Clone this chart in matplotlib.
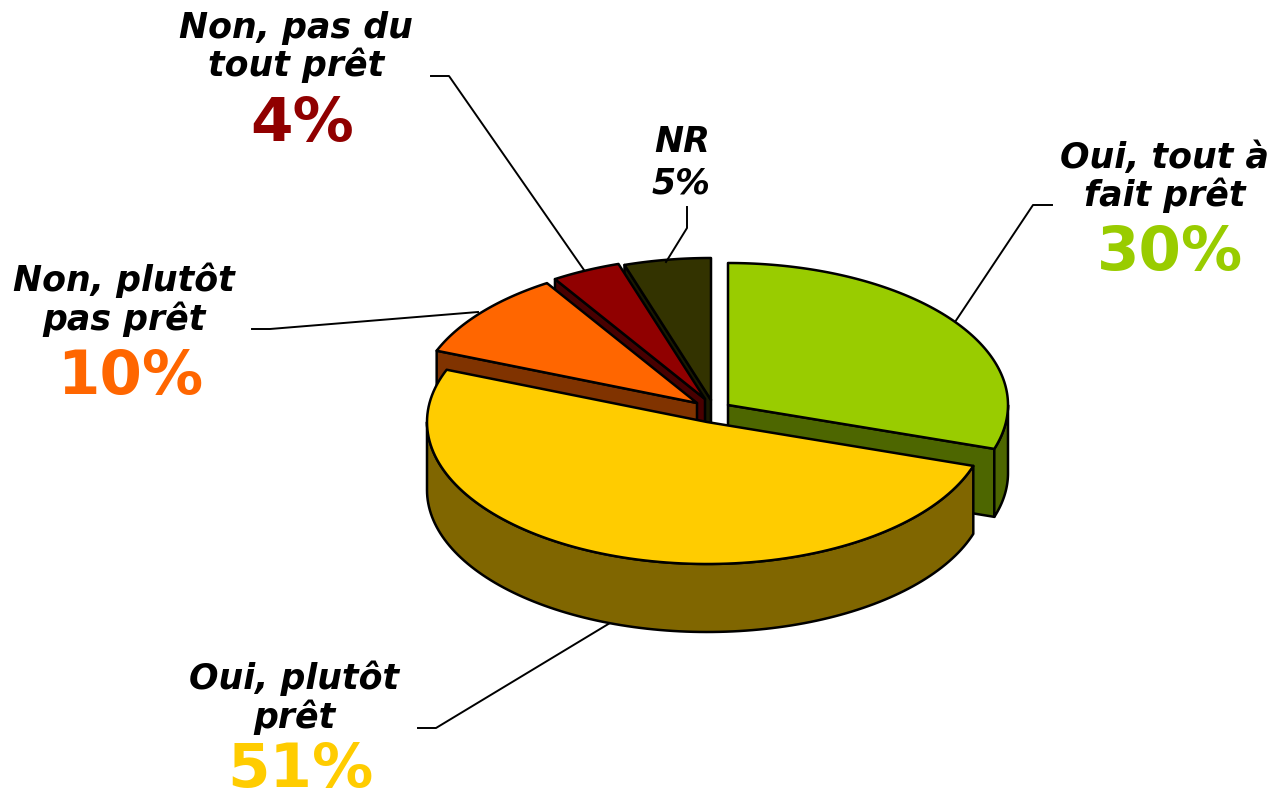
import numpy as np
import matplotlib
matplotlib.use("Agg")
import matplotlib.pyplot as plt
from matplotlib.patches import Polygon

labels = ["Oui, tout à\nfait prêt", "Oui, plutôt\nprêt", "Non, plutôt\npas prêt", "Non, pas du\ntout prêt", "NR"]
values = [30, 51, 10, 4, 5]

colors = ["#99CC00", "#FFCC00", "#FF6600", "#900000", "#333300"]
dark_colors = ["#4D6600", "#806600", "#803300", "#480000", "#1A1A00"]
pct_colors = ["#99CC00", "#FFCC00", "#FF6600", "#900000", "black"]
apex = [(728, 405), (707, 422), (697, 403), (705, 399), (711, 400)]

RX, RY, DEPTH = 280, 142, 68


def rim(cx, cy, start, end, dy=0):
    t = np.radians(np.linspace(start, end, 120))
    return np.column_stack([cx + RX * np.sin(t), cy - RY * np.cos(t) + dy])


def add_poly(ax, pts, color, z):
    ax.add_patch(Polygon(pts, closed=True, facecolor=color, edgecolor="black",
                         linewidth=1.8, joinstyle="round", zorder=z))


fig = plt.figure(figsize=(12.74, 7.97), dpi=100)
ax = fig.add_axes([0, 0, 1, 1])
ax.set_xlim(0, 1274)
ax.set_ylim(797, 0)
ax.axis("off")

edges = np.cumsum([0] + values) * 3.6

# back slices first, the big yellow one has to sit on top
for z, i in enumerate([4, 3, 2, 0, 1]):
    cx, cy = apex[i]
    start, end = edges[i], edges[i + 1]
    base = z * 10 + 1

    # cut faces, only those turned towards the viewer
    visible = []
    if end < 180:
        visible.append(end)
    if start > 180:
        visible.append(start)
    for ang in visible:
        p = rim(cx, cy, ang, ang)[0]
        face = [(cx, cy), p, (p[0], p[1] + DEPTH), (cx, cy + DEPTH)]
        add_poly(ax, face, dark_colors[i], base)

    # outer wall, only the front half can be seen
    a, b = max(start, 90), min(end, 270)
    if a < b:
        top = rim(cx, cy, a, b)
        bottom = rim(cx, cy, a, b, DEPTH)[::-1]
        add_poly(ax, np.vstack([top, bottom]), dark_colors[i], base + 1)

    add_poly(ax, np.vstack([[(cx, cy)], rim(cx, cy, start, end)]), colors[i], base + 2)

# leader lines
leaders = [
    [(1052, 205), (1033, 205), (955, 322)],
    [(418, 728), (436, 728), (610, 623)],
    [(252, 329), (270, 329), (478, 312)],
    [(431, 76), (449, 76), (584, 270)],
    [(687, 207), (687, 228), (666, 262)],
]
for line in leaders:
    xs, ys = zip(*line)
    ax.plot(xs, ys, color="black", lw=1.4, zorder=5)

# text
label_pos = [(1165, 177), (294, 698), (124, 300), (296, 47), (682, 142)]
pct_pos = [(1170, 253), (300, 770), (130, 377), (302, 124), (681, 183)]

for i in range(len(values)):
    ax.text(*label_pos[i], labels[i], ha="center", va="center", fontsize=25,
            fontweight="bold", fontstyle="italic", linespacing=1.12, zorder=110)
    big = i != 4
    ax.text(*pct_pos[i], f"{values[i]}%", ha="center", va="center",
            fontsize=44 if big else 25, fontweight="bold",
            fontstyle="normal" if big else "italic",
            color=pct_colors[i], zorder=110)

fig.savefig("out.png", dpi=100)
